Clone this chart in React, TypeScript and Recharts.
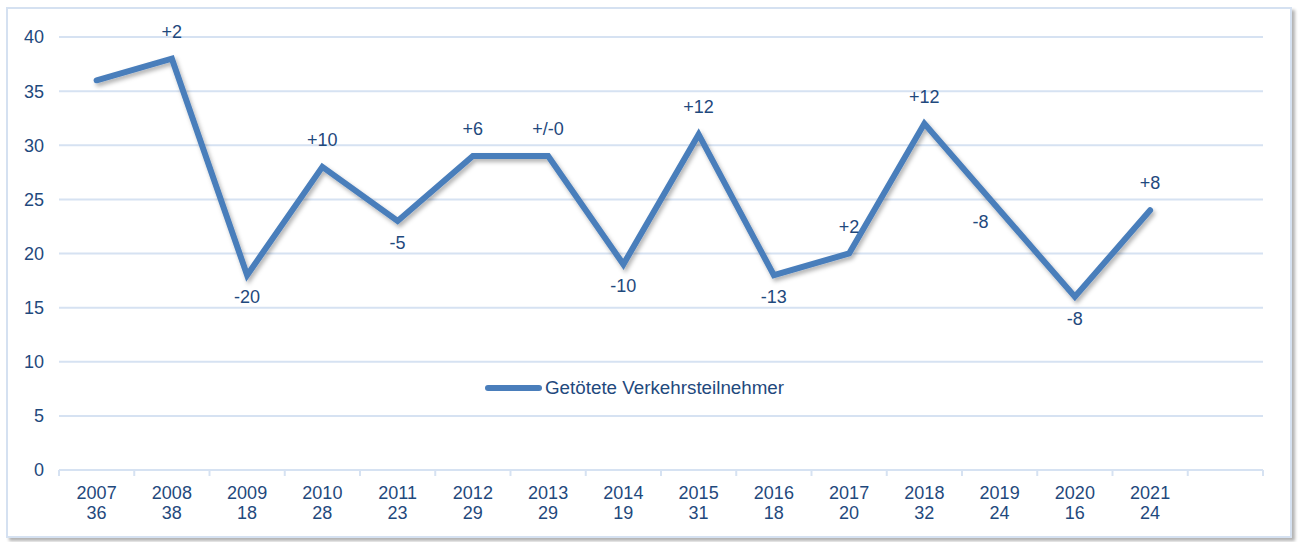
import { CartesianGrid, LabelList, Line, LineChart, XAxis, YAxis } from 'recharts'

const years = ['2007', '2008', '2009', '2010', '2011', '2012', '2013', '2014', '2015', '2016', '2017', '2018', '2019', '2020', '2021', '']
const killed = [36, 38, 18, 28, 23, 29, 29, 19, 31, 18, 20, 32, 24, 16, 24, null]
const changes = ['', '+2', '-20', '+10', '-5', '+6', '+/-0', '-10', '+12', '-13', '+2', '+12', '-8', '-8', '+8', '']
const changePos = ['', 'top', 'bottom', 'top', 'bottom', 'top', 'top', 'bottom', 'top', 'bottom', 'top', 'top', 'left', 'bottom', 'top', '']
const yTicks = [0, 5, 10, 15, 20, 25, 30, 35, 40]

const data = years.map((year, i) => ({ year, value: killed[i], label: killed[i] == null ? '' : String(killed[i]) }))

const W = 1302
const H = 542
const PLOT_LEFT = 59
const PLOT_RIGHT = 1263
const AXIS_Y = 470
const BAND = (PLOT_RIGHT - PLOT_LEFT) / years.length
const TEXT = '#1f497d'
const GRID = '#d6e2f2'
const LINE = '#4a7ebb'
const FONT = '"Liberation Sans", Arial, sans-serif'
const FS = 18

const XTick = (props: any) => {
  const { x, index } = props
  const d = data[index]
  const left = x - BAND / 2
  return <g>
    <line x1={left} x2={left} y1={AXIS_Y} y2={AXIS_Y + 6} stroke={GRID} strokeWidth={2} />
    {index === years.length - 1 && <line x1={x + BAND / 2} x2={x + BAND / 2} y1={AXIS_Y} y2={AXIS_Y + 6} stroke={GRID} strokeWidth={2} />}
    <text x={x} y={AXIS_Y + 23} textAnchor="middle" dominantBaseline="central" fill={TEXT} fontSize={FS} fontFamily={FONT}>{d.year}</text>
    <text x={x} y={AXIS_Y + 43} textAnchor="middle" dominantBaseline="central" fill={TEXT} fontSize={FS} fontFamily={FONT}>{d.label}</text>
  </g>
}

const ChangeLabel = (props: any) => {
  const { x, y, index } = props
  const t = changes[index]
  if (!t || y == null) return null
  const pos = changePos[index]
  let dx = 0
  let dy = 0
  if (pos === 'top') dy = -27
  else if (pos === 'bottom') dy = 22
  else { dx = -19; dy = 12 }
  return <text x={x + dx} y={y + dy} textAnchor="middle" dominantBaseline="central" fill={TEXT} fontSize={FS} fontFamily={FONT}>{t}</text>
}

export default function App() {
  return <div style={{ position: 'absolute', left: 0, top: 0, width: W, height: H, background: '#fff' }}>
    <div style={{ position: 'absolute', left: 6, top: 7, width: 1282, height: 527, border: '2px solid #d5e1f1', boxShadow: '3px 3px 3px rgba(0,0,0,0.3)', background: '#fff' }} />
    <div style={{ position: 'absolute', left: 0, top: 0 }}>
      <LineChart width={W} height={H} data={data} margin={{ top: 37, right: W - PLOT_RIGHT, left: 9, bottom: 22 }}>
        <defs>
          <filter id="lineShadow" x="-5%" y="-5%" width="110%" height="120%">
            <feDropShadow dx={2} dy={3} stdDeviation={2} floodColor="#000" floodOpacity={0.3} />
          </filter>
        </defs>
        <CartesianGrid vertical={false} stroke={GRID} strokeWidth={2} />
        <XAxis dataKey="year" interval={0} height={50} padding={{ left: BAND / 2, right: BAND / 2 }} axisLine={{ stroke: GRID, strokeWidth: 2 }} tickLine={false} tick={<XTick />} />
        <YAxis domain={[0, 40]} ticks={yTicks} width={50} axisLine={false} tickLine={false} tickMargin={9} tick={{ fill: TEXT, fontSize: FS, fontFamily: FONT }} />
        <Line type="linear" dataKey="value" name="Getötete Verkehrsteilnehmer" stroke={LINE} strokeWidth={6} strokeLinecap="round" dot={false} activeDot={false} filter="url(#lineShadow)" isAnimationActive={false}>
          <LabelList dataKey="value" content={<ChangeLabel />} />
        </Line>
      </LineChart>
    </div>
    <div style={{ position: 'absolute', left: 482, top: 377, display: 'flex', alignItems: 'center', fontFamily: FONT, fontSize: 18.8, color: TEXT, whiteSpace: 'nowrap' }}>
      <svg width={60} height={10}><line x1={6} x2={57} y1={5} y2={5} stroke={LINE} strokeWidth={6} strokeLinecap="round" /></svg>
      <span style={{ marginLeft: 3 }}>Getötete Verkehrsteilnehmer</span>
    </div>
  </div>
}
